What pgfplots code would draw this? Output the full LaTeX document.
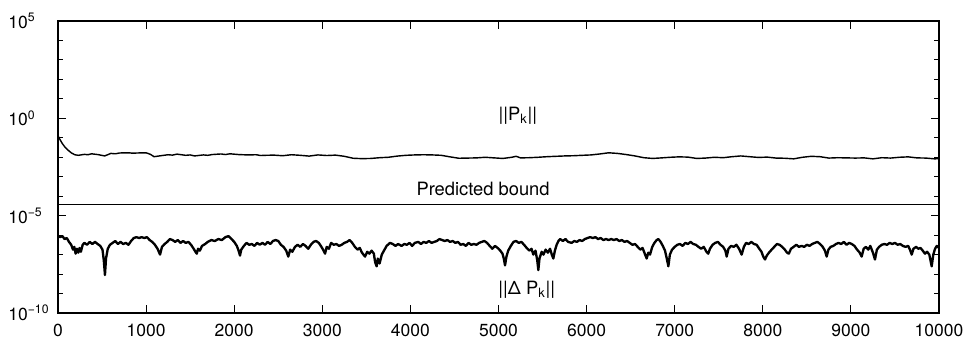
\documentclass[border=0pt]{standalone}
\usepackage{fontspec}
\setmainfont{TeX Gyre Heros}
\usepackage{pgfplots}
\pgfplotsset{compat=1.18}
\begin{document}
\begin{tikzpicture}
\path[use as bounding box] (-34.8pt,-19.2pt) rectangle (547.8pt,187.8pt);
\begin{axis}[
  at={(0,0)}, anchor=south west,
  scale only axis, width=528.6pt, height=175.2pt,
  xmin=0, xmax=10000, ymode=log, ymin=1e-10, ymax=1e5,
  xtick={0,1000,2000,3000,4000,5000,6000,7000,8000,9000,10000},
  xticklabels={0,1000,2000,3000,4000,5000,6000,7000,8000,9000,10000},
  ytick={1e-10,1e-5,1,1e5},
  yticklabels={10\textsuperscript{−10},10\textsuperscript{−5},10\textsuperscript{0},10\textsuperscript{5}},
  minor ytick={1e-9,1e-8,1e-7,1e-6,1e-4,1e-3,1e-2,1e-1,1e1,1e2,1e3,1e4},
  tick align=inside,
  major tick length=5pt, minor tick length=2.8pt,
  axis line style={line width=0.8pt},
  every tick/.style={black, line width=0.6pt},
  xticklabel style={font=\fontsize{10.5}{12}\selectfont, yshift=-3pt},
  yticklabel style={font=\fontsize{10.5}{12}\selectfont, anchor=west, inner sep=0pt, xshift=-30pt},
  scaled x ticks=false,
]
% ||P_k||
\addplot[black, line width=0.85pt, line join=round] table {
x y
0 0.13
20 0.085
50 0.05
80 0.033
110 0.024
150 0.017
190 0.0135
230 0.0126
300 0.0141
340 0.0135
380 0.0151
450 0.0138
530 0.0117
600 0.0158
650 0.0151
700 0.0166
800 0.017
850 0.0162
900 0.0166
1000 0.017
1050 0.0141
1090 0.0107
1150 0.0117
1200 0.0126
1250 0.0135
1300 0.0129
1350 0.0145
1450 0.0126
1500 0.0132
1550 0.0117
1650 0.0132
1700 0.0126
1750 0.0138
1850 0.0148
1900 0.0138
1950 0.0151
2050 0.0138
2150 0.0132
2250 0.0135
2300 0.0123
2350 0.0126
2450 0.0129
2550 0.012
2650 0.0135
2750 0.0126
2850 0.0115
2950 0.0132
3050 0.0123
3150 0.0129
3250 0.0112
3350 0.0089
3450 0.0085
3550 0.0087
3650 0.0095
3750 0.01
3850 0.0115
3950 0.0126
4050 0.0132
4150 0.0135
4250 0.0132
4350 0.0126
4450 0.0105
4550 0.0089
4650 0.0091
4750 0.0093
4850 0.01
4950 0.0093
5050 0.0087
5150 0.01
5200 0.0112
5250 0.0093
5350 0.0095
5450 0.01
5550 0.0107
5650 0.0112
5750 0.0117
5850 0.012
5950 0.0126
6050 0.0132
6150 0.0148
6250 0.017
6350 0.0158
6450 0.0138
6550 0.0117
6650 0.0095
6750 0.0087
6850 0.0093
6950 0.01
7050 0.0105
7150 0.0102
7250 0.0087
7350 0.0091
7450 0.01
7550 0.0095
7650 0.0107
7750 0.0117
7850 0.0107
7950 0.0098
8050 0.0102
8150 0.0091
8250 0.0089
8350 0.0083
8450 0.01
8550 0.0112
8650 0.0107
8750 0.0091
8850 0.0095
8950 0.0093
9050 0.0091
9150 0.0093
9250 0.0083
9350 0.0095
9450 0.0091
9550 0.01
9650 0.0105
9750 0.0093
9850 0.0091
9950 0.0083
10000 0.0085
};
% Predicted bound
\addplot[black, line width=0.6pt] table {
x y
0 3.7e-5
10000 3.7e-5
};
% ||Delta P_k||
\addplot[black, line width=1.4pt, line join=round] table {
x y
0 8.9e-7
25 7.9e-7
50 8.9e-7
75 6.3e-7
100 7.1e-7
125 4.5e-7
150 3.2e-7
170 1.8e-7
185 2.5e-7
200 1.12e-7
215 2.0e-7
230 1.26e-7
245 2.2e-7
260 1.4e-7
280 3.2e-7
300 4.0e-7
330 3.2e-7
360 4.5e-7
390 3.5e-7
420 4.5e-7
450 3.5e-7
480 2.8e-7
505 1.8e-7
520 5.0e-8
533 8.9e-9
545 6.3e-8
565 2.0e-7
590 3.2e-7
620 4.0e-7
650 5.0e-7
680 3.5e-7
710 4.5e-7
740 3.5e-7
770 4.0e-7
800 3.2e-7
830 5.0e-7
860 7.1e-7
890 7.9e-7
920 7.1e-7
950 7.9e-7
980 7.1e-7
1010 7.9e-7
1040 5.6e-7
1070 4.5e-7
1100 3.2e-7
1130 2.0e-7
1158 1.0e-7
1180 2.5e-7
1210 3.5e-7
1240 4.5e-7
1270 6.3e-7
1300 5.6e-7
1330 4.5e-7
1360 5.6e-7
1390 4.0e-7
1420 5.0e-7
1450 4.0e-7
1480 4.5e-7
1510 3.2e-7
1540 2.0e-7
1560 1.4e-7
1575 1.12e-7
1590 2.0e-7
1610 1.6e-7
1635 2.8e-7
1670 3.5e-7
1700 4.5e-7
1740 5.6e-7
1780 5.0e-7
1820 6.3e-7
1860 5.6e-7
1900 7.9e-7
1935 8.9e-7
1970 6.3e-7
2000 4.5e-7
2030 2.8e-7
2050 1.6e-7
2066 8.9e-8
2080 1.8e-7
2110 2.8e-7
2140 4.0e-7
2170 3.2e-7
2200 3.5e-7
2230 2.8e-7
2260 4.0e-7
2290 3.2e-7
2320 4.0e-7
2350 3.2e-7
2380 4.5e-7
2410 3.5e-7
2440 5.0e-7
2470 5.6e-7
2500 5.0e-7
2530 3.2e-7
2560 2.5e-7
2590 1.6e-7
2614 7.9e-8
2635 1.8e-7
2660 1.4e-7
2690 2.5e-7
2720 3.2e-7
2750 2.5e-7
2780 3.5e-7
2810 2.8e-7
2840 2.0e-7
2870 3.2e-7
2900 4.5e-7
2930 5.0e-7
2960 4.0e-7
2990 2.5e-7
3015 1.6e-7
3031 1.12e-7
3050 2.5e-7
3075 2.0e-7
3100 4.0e-7
3130 3.2e-7
3160 3.5e-7
3190 2.8e-7
3220 3.2e-7
3250 4.0e-7
3280 4.5e-7
3310 5.6e-7
3340 4.0e-7
3370 2.5e-7
3400 1.8e-7
3425 2.2e-7
3450 1.26e-7
3485 7.9e-8
3510 1.4e-7
3535 1.12e-7
3560 1.6e-7
3585 1.12e-7
3600 4.0e-8
3617 2.5e-8
3630 6.3e-8
3650 3.5e-8
3675 1.0e-7
3700 1.6e-7
3730 2.8e-7
3768 4.0e-7
3800 3.5e-7
3830 2.8e-7
3860 3.5e-7
3900 2.8e-7
3930 3.5e-7
3960 3.2e-7
3990 4.0e-7
4020 2.8e-7
4050 4.0e-7
4090 4.5e-7
4120 3.5e-7
4150 4.5e-7
4180 4.0e-7
4210 5.0e-7
4240 4.0e-7
4270 4.5e-7
4300 5.0e-7
4330 6.3e-7
4360 5.6e-7
4390 5.0e-7
4420 5.6e-7
4450 4.5e-7
4480 5.0e-7
4510 4.0e-7
4540 4.5e-7
4570 3.2e-7
4600 3.5e-7
4630 2.8e-7
4660 4.0e-7
4690 3.2e-7
4720 3.5e-7
4750 3.2e-7
4780 4.0e-7
4810 4.5e-7
4840 5.0e-7
4870 4.0e-7
4900 2.8e-7
4930 2.0e-7
4960 2.8e-7
4990 2.2e-7
5020 1.6e-7
5045 1.12e-7
5060 6.3e-8
5074 2.8e-8
5090 7.9e-8
5110 1.6e-7
5140 2.8e-7
5170 4.5e-7
5200 5.0e-7
5230 4.0e-7
5260 4.5e-7
5290 3.2e-7
5320 2.2e-7
5350 1.6e-7
5375 2.0e-7
5395 1.0e-7
5420 1.6e-7
5440 5.0e-8
5452 1.6e-8
5465 6.3e-8
5490 1.4e-7
5510 1.0e-7
5535 1.8e-7
5560 1.26e-7
5585 2.0e-7
5605 1.0e-7
5622 6.3e-8
5640 1.6e-7
5660 3.2e-7
5680 5.0e-7
5700 6.3e-7
5730 5.0e-7
5760 6.3e-7
5790 4.5e-7
5830 4.0e-7
5860 5.0e-7
5890 4.5e-7
5920 5.6e-7
5950 5.0e-7
5980 6.3e-7
6010 7.1e-7
6040 7.9e-7
6070 7.1e-7
6100 7.9e-7
6130 6.3e-7
6160 7.1e-7
6190 5.6e-7
6220 6.3e-7
6250 5.6e-7
6280 6.3e-7
6310 5.6e-7
6340 6.3e-7
6370 5.0e-7
6400 5.6e-7
6430 4.5e-7
6460 5.0e-7
6490 4.0e-7
6520 3.2e-7
6550 3.5e-7
6580 2.5e-7
6610 1.8e-7
6635 2.2e-7
6660 1.12e-7
6682 6.3e-8
6700 1.26e-7
6720 1.0e-7
6745 2.5e-7
6770 4.0e-7
6795 5.6e-7
6815 6.3e-7
6840 4.5e-7
6865 2.8e-7
6890 1.6e-7
6910 6.3e-8
6928 2.5e-8
6945 1.0e-7
6970 1.8e-7
7000 2.5e-7
7030 3.2e-7
7060 3.5e-7
7090 2.8e-7
7120 4.0e-7
7150 3.5e-7
7180 4.5e-7
7210 3.5e-7
7240 3.2e-7
7270 2.5e-7
7300 2.0e-7
7330 2.5e-7
7360 1.4e-7
7381 1.12e-7
7400 2.0e-7
7430 3.2e-7
7460 4.0e-7
7490 4.5e-7
7520 3.2e-7
7550 2.5e-7
7575 1.6e-7
7590 7.9e-8
7610 2.0e-7
7640 2.8e-7
7670 2.5e-7
7700 3.2e-7
7730 2.0e-7
7760 1.0e-7
7785 2.5e-7
7810 4.0e-7
7840 3.5e-7
7870 4.5e-7
7900 3.5e-7
7930 3.2e-7
7960 2.0e-7
7985 1.4e-7
8005 7.9e-8
8025 5.6e-8
8045 8.9e-8
8070 1.26e-7
8100 1.8e-7
8130 2.5e-7
8160 3.5e-7
8190 3.2e-7
8220 2.5e-7
8250 1.8e-7
8275 1.26e-7
8295 1.12e-7
8320 2.0e-7
8350 2.5e-7
8380 3.2e-7
8410 2.5e-7
8440 2.8e-7
8470 2.5e-7
8500 3.2e-7
8530 2.8e-7
8560 3.5e-7
8590 4.0e-7
8620 4.5e-7
8650 3.5e-7
8680 2.5e-7
8705 1.6e-7
8725 7.9e-8
8745 1.8e-7
8770 2.5e-7
8800 2.8e-7
8830 3.5e-7
8860 4.0e-7
8890 3.5e-7
8920 4.5e-7
8950 3.2e-7
8980 4.0e-7
9010 3.5e-7
9040 2.8e-7
9070 1.8e-7
9100 1.26e-7
9122 7.9e-8
9145 2.0e-7
9170 2.5e-7
9197 1.8e-7
9220 2.8e-7
9250 1.26e-7
9273 5.6e-8
9295 1.8e-7
9320 2.5e-7
9350 3.2e-7
9380 3.5e-7
9410 3.2e-7
9440 4.0e-7
9470 3.5e-7
9500 4.0e-7
9530 3.2e-7
9560 3.5e-7
9590 2.8e-7
9620 2.5e-7
9650 2.8e-7
9670 1.8e-7
9690 1.0e-7
9710 2.0e-7
9740 2.5e-7
9765 2.0e-7
9790 2.2e-7
9815 1.6e-7
9841 1.12e-7
9865 1.4e-7
9890 1.0e-7
9917 2.5e-8
9935 1.0e-7
9955 2.0e-7
9975 2.8e-7
10000 2.2e-7
};
\node[font=\fontsize{11}{13}\selectfont] at (axis cs:5220,1.4) {||P\textsubscript{k}||};
\node[font=\fontsize{11}{13}\selectfont] at (axis cs:4825,2.4e-4) {Predicted bound};
\node[font=\fontsize{11}{13}\selectfont] at (axis cs:5320,1.5e-9) {||Δ P\textsubscript{k}||};
\end{axis}
\end{tikzpicture}
\end{document}
